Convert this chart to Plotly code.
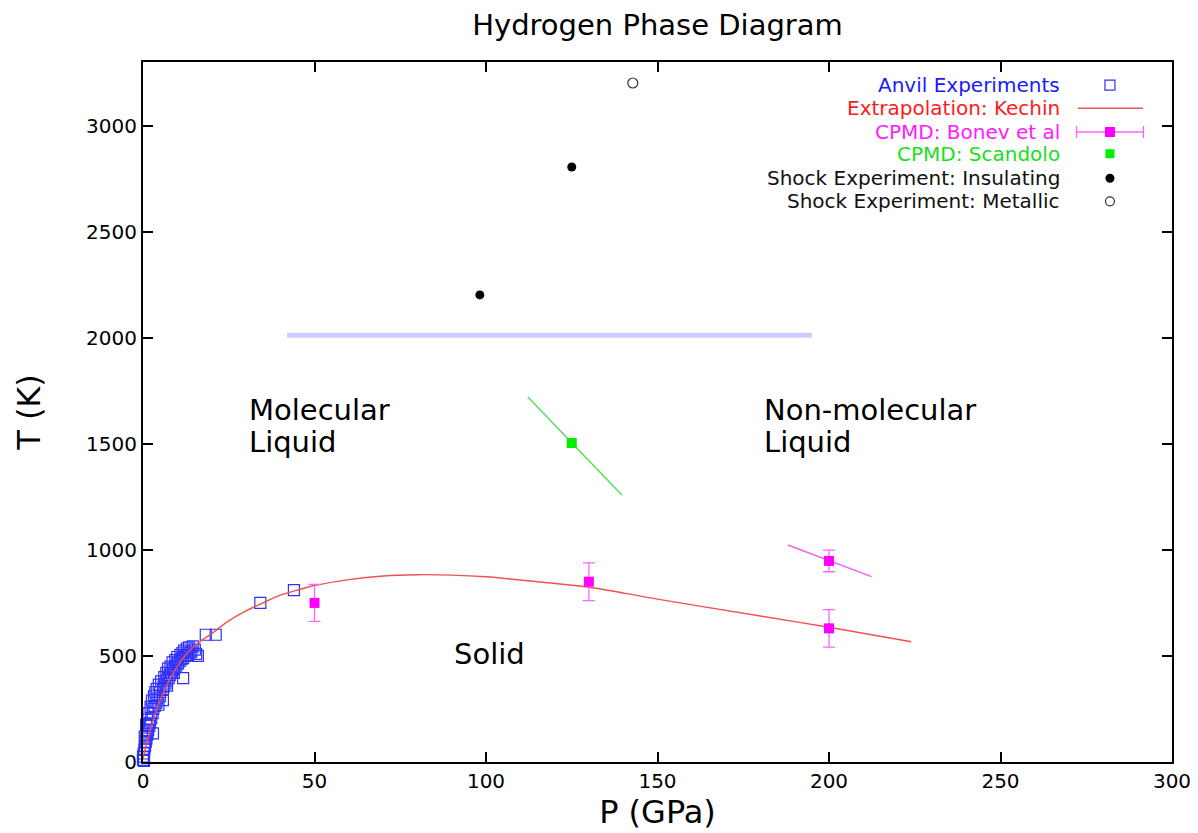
import plotly.graph_objects as go

FONT = "DejaVu Sans"

# ---------------- data ----------------
anvil_p = [0.0, 0.0, 0.2, 0.4, 0.6, 0.8, 1.0, 1.3, 1.5, 1.8, 2.0, 2.4, 2.8, 3.0, 3.4, 3.9,
           4.2, 4.9, 5.0, 5.8, 6.0, 6.5, 7.0, 7.5, 7.8, 8.2, 8.7, 9.2, 9.7, 10.2, 10.7,
           11.2, 11.7, 12.4, 13.1, 13.6, 14.1, 15.1, 16.0, 15.5, 11.7, 5.8, 2.9, 1.0,
           0.3, 0.5, 0.9, 1.2, 1.6, 2.2, 2.6, 3.2, 3.6, 4.0, 4.6, 5.3, 6.2, 6.8, 7.3,
           8.0, 8.6, 9.4, 10.0, 10.9, 11.5, 12.0, 12.8, 13.4, 14.5, 9.0, 7.0, 4.5,
           18.3, 21.2, 34.2, 44.0]
anvil_t = [10, 25, 40, 60, 75, 95, 110, 130, 150, 170, 185, 205, 230, 250, 265, 280,
           300, 310, 330, 340, 355, 370, 385, 395, 410, 420, 435, 445, 455, 465, 475,
           485, 490, 500, 505, 515, 520, 530, 500, 510, 395, 292, 135, 140,
           5, 120, 175, 200, 230, 260, 290, 310, 330, 345, 365, 380, 400, 420, 440,
           450, 470, 480, 495, 505, 515, 525, 535, 540, 545, 420, 360, 270,
           600, 600, 750, 810]

kechin_p = [0, 0.5, 1, 2, 3, 4, 6, 8, 10, 13, 16, 20, 25, 30, 35, 40, 45, 50, 60, 70, 80,
            90, 100, 115, 130, 150, 180, 200, 224]
kechin_t = [14, 50, 85, 140, 200, 250, 330, 395, 450, 515, 560, 605, 665, 712, 750, 787,
            810, 832, 860, 877, 883, 881, 873, 850, 824, 768, 688, 635, 567]

bonev_p = [50, 130, 200, 200]
bonev_t = [750, 850, 948, 630]
bonev_err = [87, 89, 51, 88]
bonev_line_p = [188, 212.4]
bonev_line_t = [1023, 874]

scandolo_p = [125]
scandolo_t = [1504]
scandolo_line_p = [112.2, 139.6]
scandolo_line_t = [1721, 1259]

insul_p = [98.2, 125]
insul_t = [2202, 2805]
metal_p = [142.8]
metal_t = [3201]

boundary_p = [42, 195]
boundary_t = [2012, 2012]

legend_labels = ["Anvil Experiments", "Extrapolation: Kechin", "CPMD: Bonev et al",
                 "CPMD: Scandolo", "Shock Experiment: Insulating", "Shock Experiment: Metallic"]
legend_colors = ["#1a1aff", "#ff1a1a", "#ff1aff", "#1ae01a", "#111111", "#111111"]

region_labels = ["Molecular", "Liquid", "Non-molecular", "Liquid", "Solid"]

x_ticks = [0, 50, 100, 150, 200, 250, 300]
y_ticks = [0, 500, 1000, 1500, 2000, 2500, 3000]

# ---------------- figure ----------------
fig = go.Figure()

fig.add_trace(go.Scatter(x=boundary_p, y=boundary_t, mode="lines",
                         line=dict(color="#ccccff", width=5), showlegend=False))

fig.add_trace(go.Scatter(x=anvil_p, y=anvil_t, mode="markers", cliponaxis=False,
                         marker=dict(symbol="square-open", size=11, color="#3030ff",
                                     line=dict(width=1.2, color="#3030ff")),
                         showlegend=False))

fig.add_trace(go.Scatter(x=kechin_p, y=kechin_t, mode="lines",
                         line=dict(color="#f05050", width=1.4, shape="spline"),
                         showlegend=False))

fig.add_trace(go.Scatter(x=bonev_line_p, y=bonev_line_t, mode="lines",
                         line=dict(color="#f060f0", width=1.4), showlegend=False))
fig.add_trace(go.Scatter(x=bonev_p, y=bonev_t, mode="markers",
                         marker=dict(symbol="square", size=10, color="#ff00ff"),
                         error_y=dict(type="data", array=bonev_err, color="#ff66ff",
                                      thickness=1.3, width=6),
                         showlegend=False))

fig.add_trace(go.Scatter(x=scandolo_line_p, y=scandolo_line_t, mode="lines",
                         line=dict(color="#50e050", width=1.4), showlegend=False))
fig.add_trace(go.Scatter(x=scandolo_p, y=scandolo_t, mode="markers",
                         marker=dict(symbol="square", size=10, color="#00ee00"),
                         showlegend=False))

fig.add_trace(go.Scatter(x=insul_p, y=insul_t, mode="markers",
                         marker=dict(symbol="circle", size=9, color="#000000"),
                         showlegend=False))
fig.add_trace(go.Scatter(x=metal_p, y=metal_t, mode="markers",
                         marker=dict(symbol="circle-open", size=10, color="#333333",
                                     line=dict(width=1.2)),
                         showlegend=False))

# ---------------- manual legend (symbols right of text) ----------------
rows = [0.967, 0.934, 0.900, 0.869, 0.834, 0.801]
sx = 0.9397
fig.add_trace(go.Scatter(x=[sx], y=[rows[0]], xaxis="x2", yaxis="y2", mode="markers",
                         marker=dict(symbol="square-open", size=10, color="#3030ff",
                                     line=dict(width=1.2, color="#3030ff")), showlegend=False))
fig.add_trace(go.Scatter(x=[0.9086, 0.9718], y=[rows[1], rows[1]], xaxis="x2", yaxis="y2",
                         mode="lines", line=dict(color="#f05050", width=1.4), showlegend=False))
fig.add_trace(go.Scatter(x=[sx], y=[rows[2]], xaxis="x2", yaxis="y2", mode="markers",
                         marker=dict(symbol="square", size=10, color="#ff00ff"),
                         error_x=dict(type="constant", value=0.0325, color="#ff66ff",
                                      thickness=1.3, width=6),
                         showlegend=False))
fig.add_trace(go.Scatter(x=[sx], y=[rows[3]], xaxis="x2", yaxis="y2", mode="markers",
                         marker=dict(symbol="square", size=9, color="#00ee00"), showlegend=False))
fig.add_trace(go.Scatter(x=[sx], y=[rows[4]], xaxis="x2", yaxis="y2", mode="markers",
                         marker=dict(symbol="circle", size=9, color="#000000"), showlegend=False))
fig.add_trace(go.Scatter(x=[sx], y=[rows[5]], xaxis="x2", yaxis="y2", mode="markers",
                         marker=dict(symbol="circle-open", size=9, color="#333333",
                                     line=dict(width=1.2)), showlegend=False))

annotations = []
for lab, col, ry in zip(legend_labels, legend_colors, rows):
    annotations.append(dict(text=lab, x=0.893, y=ry, xref="paper", yref="paper",
                            xanchor="right", yanchor="middle", showarrow=False,
                            font=dict(family=FONT, size=20, color=col)))

region_pos = [(30.2, 1660, "left"), (30.2, 1510, "left"), (180.4, 1660, "left"),
              (180.4, 1510, "left"), (101.1, 508, "center")]
for lab, (px, pt, anc) in zip(region_labels, region_pos):
    annotations.append(dict(text=lab, x=px, y=pt, xref="x", yref="y", xanchor=anc,
                            yanchor="middle", showarrow=False,
                            font=dict(family=FONT, size=29, color="#000000")))

axis_common = dict(showline=True, linewidth=2, linecolor="#000000", mirror="ticks",
                   ticks="inside", ticklen=10, tickwidth=1.5, tickcolor="#000000",
                   showgrid=False, zeroline=False, automargin=False,
                   tickfont=dict(family=FONT, size=20, color="#000000"))

# the page adds an 8px body margin, so the figure is 8px smaller than the window
W, H = 1190, 825
fig.update_layout(
    width=W, height=H,
    paper_bgcolor="white", plot_bgcolor="white",
    margin=dict(l=135, r=26, t=54, b=71, autoexpand=False),
    title=dict(text="Hydrogen Phase Diagram", x=0.5, xref="paper", xanchor="center",
               y=1 - 17 / H, yref="container", yanchor="middle",
               font=dict(family=FONT, size=29, color="#000000")),
    xaxis=dict(range=[0, 300], tickvals=x_ticks,
               title=dict(text="P (GPa)", font=dict(family=FONT, size=32, color="#000000"),
                          standoff=6),
               **axis_common),
    yaxis=dict(range=[0, 3300], tickvals=y_ticks,
               title=dict(text="T (K)", font=dict(family=FONT, size=32, color="#000000"),
                          standoff=36),
               **axis_common),
    xaxis2=dict(overlaying="x", range=[0, 1], visible=False, anchor="y2"),
    yaxis2=dict(overlaying="y", range=[0, 1], visible=False, anchor="x2"),
    annotations=annotations,
    showlegend=False,
)

fig.write_html("out.html")
